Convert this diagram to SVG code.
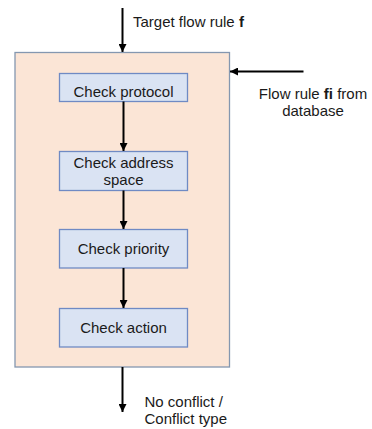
<svg xmlns="http://www.w3.org/2000/svg" width="372" height="429" viewBox="0 0 372 429">
<defs>
<marker id="ah" viewBox="0 0 10 10" refX="10" refY="5" markerWidth="4" markerHeight="4" orient="auto" markerUnits="strokeWidth">
<path d="M0,0 L10,5 L0,10 z" fill="#000"/>
</marker>
<style>
text{font-family:"Liberation Sans",Arial,sans-serif;font-size:15px;fill:#1a1a1a}
.box{fill:#DAE3F3;stroke:#6F8AC4;stroke-width:1.3}
.outer{fill:#FBE5D6;stroke:#8497B0;stroke-width:1.3}
.c{text-anchor:middle}
.conn line{stroke:#000;stroke-width:2;marker-end:url(#ah)}
</style>
</defs>
<rect width="372" height="429" fill="#fff"/>
<g id="container"><rect class="outer" x="15" y="52.5" width="214.5" height="314.5"/></g>
<g id="n1"><rect class="box" x="59.5" y="73.5" width="128" height="28"/><text class="c" x="123.5" y="96.5">Check protocol</text></g>
<g id="n2"><rect class="box" x="59.5" y="151.5" width="128" height="39"/><text class="c" x="123.5" y="167.5">Check address</text><text class="c" x="123.5" y="184.5">space</text></g>
<g id="n3"><rect class="box" x="59.5" y="229.5" width="128" height="38.5"/><text class="c" x="123.5" y="254">Check priority</text></g>
<g id="n4"><rect class="box" x="59.5" y="308.5" width="128" height="38.5"/><text class="c" x="123.5" y="333">Check action</text></g>
<g id="labels">
<text x="133" y="27">Target flow rule <tspan font-weight="bold">f</tspan></text>
<text class="c" x="313" y="99">Flow rule <tspan font-weight="bold">fi</tspan> from</text>
<text class="c" x="313" y="116">database</text>
<text x="144.5" y="406.5">No conflict /</text>
<text x="144.5" y="423.5">Conflict type</text>
</g>
<g class="conn" id="connectors">
<line x1="122.5" y1="8" x2="122.5" y2="52"/>
<line x1="303.5" y1="71.5" x2="230" y2="71.5"/>
<line x1="123.5" y1="101.5" x2="123.5" y2="151"/>
<line x1="123.5" y1="190.5" x2="123.5" y2="229"/>
<line x1="123.5" y1="268" x2="123.5" y2="308"/>
<line x1="122.5" y1="367" x2="122.5" y2="412"/>
</g>
</svg>
